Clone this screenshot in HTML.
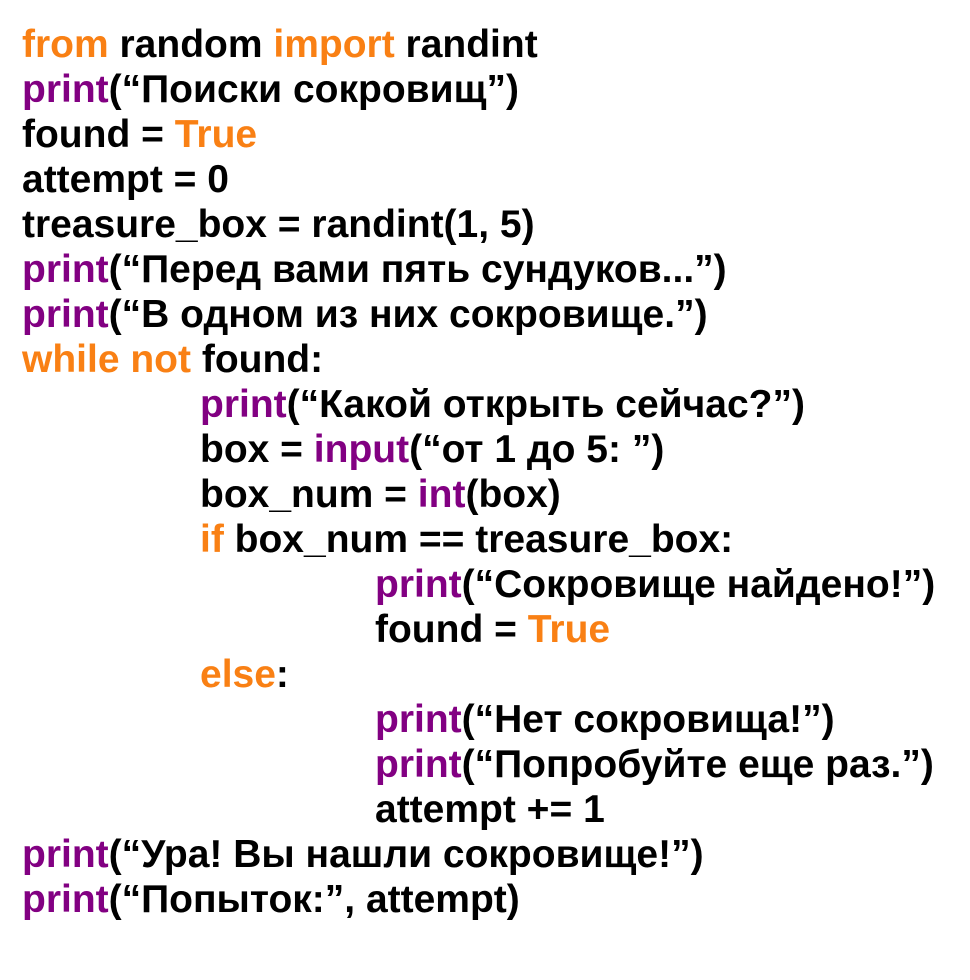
<!DOCTYPE html>
<html><head><meta charset="utf-8"><style>
body{margin:0;background:#fff;width:970px;height:980px;overflow:hidden}
pre{margin:0;position:absolute;left:22px;top:22px;font-family:"Liberation Sans",Arial,sans-serif;font-weight:bold;font-size:39px;line-height:45px;color:#000;white-space:pre}
.o{color:#f98014}.p{color:#820082}
.i1{padding-left:178px}.i2{padding-left:353px}
div{display:block;height:45px}
</style></head><body><pre><div><span class="o">from</span> random <span class="o">import</span> randint</div><div><span class="p">print</span>(“Поиски сокровищ”)</div><div>found = <span class="o">True</span></div><div>attempt = 0</div><div>treasure_box = randint(1, 5)</div><div><span class="p">print</span>(“Перед вами пять сундуков...”)</div><div><span class="p">print</span>(“В одном из них сокровище.”)</div><div><span class="o">while not</span> found:</div><div class="i1"><span class="p">print</span>(“Какой открыть сейчас?”)</div><div class="i1">box = <span class="p">input</span>(“от 1 до 5: ”)</div><div class="i1">box_num = <span class="p">int</span>(box)</div><div class="i1"><span class="o">if</span> box_num == treasure_box:</div><div class="i2"><span class="p">print</span>(“Сокровище найдено!”)</div><div class="i2">found = <span class="o">True</span></div><div class="i1"><span class="o">else</span>:</div><div class="i2"><span class="p">print</span>(“Нет сокровища!”)</div><div class="i2"><span class="p">print</span>(“Попробуйте еще раз.”)</div><div class="i2">attempt += 1</div><div><span class="p">print</span>(“Ура! Вы нашли сокровище!”)</div><div><span class="p">print</span>(“Попыток:”, attempt)</div></pre></body></html>
